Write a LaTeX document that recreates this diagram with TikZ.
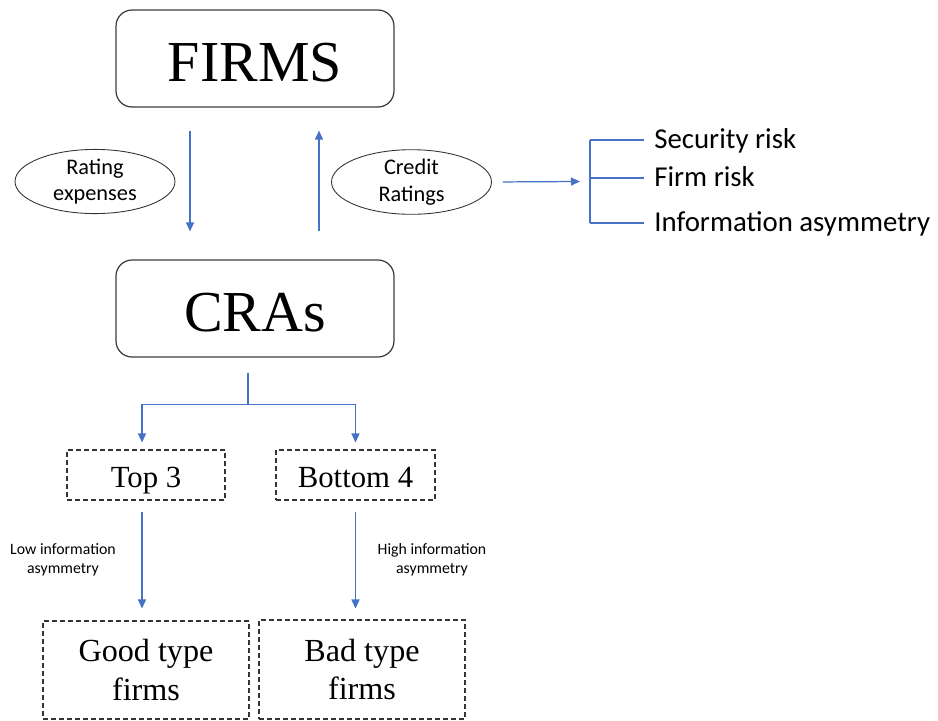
\documentclass[tikz,border=0pt]{standalone}
\usepackage{fontspec}
\setmainfont{Liberation Serif}
\newfontfamily\calibri{Carlito}
\usetikzlibrary{arrows.meta, positioning, calc, shapes.geometric}
\definecolor{ArrowBlue}{RGB}{68,114,196}
\definecolor{BoxGray}{RGB}{60,60,60}
\def\gap{0.22cm}

\tikzset{
  bigbox/.style={draw=BoxGray, line width=0.7pt, rounded corners=0.32cm,
    minimum width=5.56cm, minimum height=1.94cm, text height=26pt, text depth=0pt,
    font=\fontsize{33}{36}\selectfont},
  dashbox/.style={draw=black!80, line width=0.6pt, dash pattern=on 0.1cm off 0.06cm,
    align=center, inner sep=0pt},
  smallbox/.style={dashbox, minimum height=1cm, text height=14.9pt, text depth=0.9pt,
    font=\fontsize{17.5}{21}\selectfont},
  oval/.style={ellipse, draw=black!80, line width=0.5pt, minimum width=3.2cm,
    minimum height=1.28cm, inner sep=0pt, align=center,
    font=\calibri\fontsize{12.7}{15}\selectfont},
  risk/.style={anchor=west, inner xsep=0.2cm, inner ysep=0pt, text height=12.3pt,
    text depth=2.5pt, font=\calibri\fontsize{16.4}{19}\selectfont},
  note/.style={align=center, font=\calibri\fontsize{9}{10.8}\selectfont},
  flow/.style={ArrowBlue, line width=0.7pt, -{Triangle[length=0.18cm, width=0.16cm]}},
  flowline/.style={ArrowBlue, line width=0.7pt},
}

\begin{document}
\begin{tikzpicture}[x=0.02cm, y=-0.02cm]
\useasboundingbox (0,0) rectangle (938,721);

% firms and rating agencies
\node[bigbox] (firms) at (255,58.5) {FIRMS};
\node[bigbox] (cras) at (255,308.5) {CRAs};

\node[oval] (rexp) at (95,181.5) {Rating\\expenses};
\node[oval] (crat) at (411.5,182) {Credit\\Ratings};

\draw[flow, shorten <=0.46cm, shorten >=0.56cm]
    ([xshift=-1.3cm]firms.south) -- ([xshift=-1.3cm]cras.north);
\draw[flow, shorten <=0.56cm, shorten >=0.46cm]
    ([xshift=1.28cm]cras.north) -- ([xshift=1.28cm]firms.south);

% what the ratings tell
\coordinate (brk) at (580,181.5);
\draw[flow, shorten <=\gap] (crat.east) -- (brk);

\foreach \lbl/\y/\nm in {Security risk/140/sec, Firm risk/178/firm, Information asymmetry/223/info}{
    \node[risk] (\nm) at (644,\y) {\lbl};
    \draw[flowline] (\nm.west) -- ++(-1.08cm,0);
}
\draw[flowline] ([xshift=-1.08cm]sec.west) -- ([xshift=-1.08cm]info.west);

% split of the agencies
\node[smallbox, minimum width=3.16cm] (top) at (146,475) {Top 3};
\node[smallbox, minimum width=3.18cm] (bot) at (355.5,475) {Bottom 4};

\draw[flowline] ([xshift=-0.14cm, yshift=-0.3cm]cras.south) -- ++(0,-0.64cm) coordinate (fork);
\draw[flow] (fork) -| ([xshift=-0.08cm, yshift=0.14cm]top.north);
\draw[flow] (fork) -| ([yshift=0.14cm]bot.north);

% firm types
\node[dashbox, minimum width=4.12cm, minimum height=1.96cm, font=\fontsize{18.3}{22}\selectfont]
    (good) at (146,670) {Good type\\firms};
\node[dashbox, minimum width=4.12cm, minimum height=1.98cm, font=\fontsize{18.3}{22}\selectfont]
    (bad) at (362,669.5) {Bad type\\firms};

\draw[flow, shorten <=\gap, shorten >=0.24cm]
    ([xshift=-0.08cm]top.south) -- ([xshift=-0.08cm]top.south |- good.north);
\draw[flow, shorten <=\gap, shorten >=\gap]
    (bot.south) -- (bot.south |- bad.north);

\node[note] (lowinf) at (63,560) {Low information\\asymmetry};
\node[note] (highinf) at (432,560) {High information\\asymmetry};

\end{tikzpicture}
\end{document}
